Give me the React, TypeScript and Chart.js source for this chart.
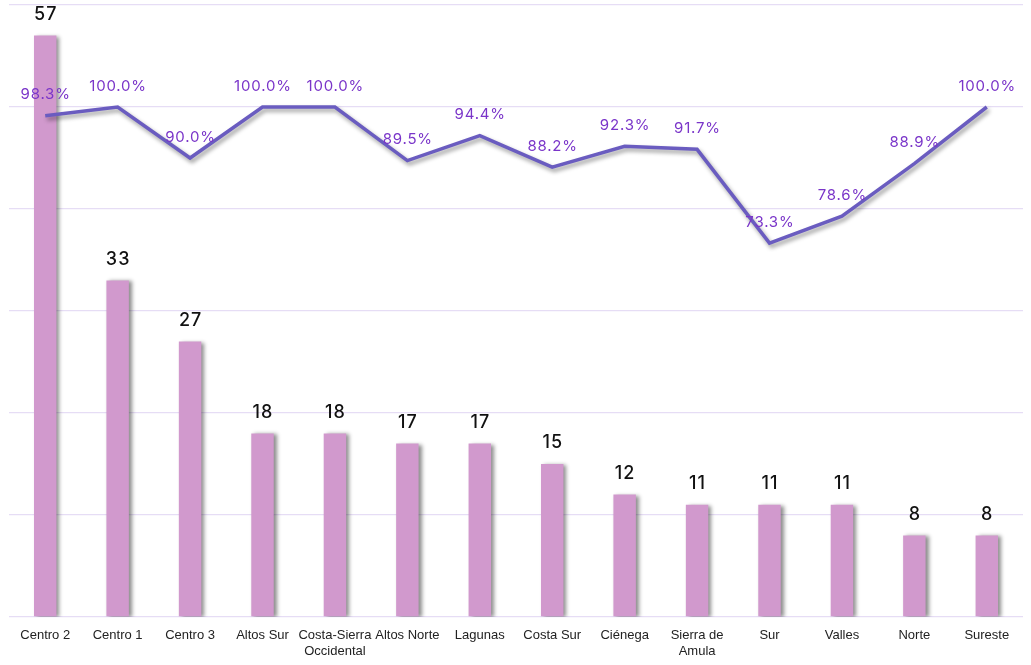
import React, { useEffect, useRef } from "react";
import { Chart, registerables } from "chart.js";

Chart.register(...registerables);

const categories: (string | string[])[] = [
  "Centro 2", "Centro 1", "Centro 3", "Altos Sur", ["Costa-Sierra", "Occidental"],
  "Altos Norte", "Lagunas", "Costa Sur", "Ciénega", ["Sierra de", "Amula"],
  "Sur", "Valles", "Norte", "Sureste",
];
const counts = [57, 33, 27, 18, 18, 17, 17, 15, 12, 11, 11, 11, 8, 8];
const percents = [98.3, 100.0, 90.0, 100.0, 100.0, 89.5, 94.4, 88.2, 92.3, 91.7, 73.3, 78.6, 88.9, 100.0];

const BAR_COLOR = "#D199CD";
const LINE_COLOR = "#6A5CC0";
const PCT_COLOR = "#7A35C9";
const GRID_COLOR = "#E6DDF5";
const LABEL_FONT = "Inter, 'Noto Sans', sans-serif";

const shadowPlugin = {
  id: "shadowPlugin",
  beforeDatasetDraw(chart: any, args: any) {
    const ctx = chart.ctx;
    ctx.save();
    if (args.index === 0) {
      ctx.shadowColor = "rgba(0,0,0,0.45)";
      ctx.shadowBlur = 4;
      ctx.shadowOffsetX = 3;
      ctx.shadowOffsetY = 1;
    } else {
      ctx.shadowColor = "rgba(0,0,0,0.4)";
      ctx.shadowBlur = 4;
      ctx.shadowOffsetX = 2;
      ctx.shadowOffsetY = 3;
    }
  },
  afterDatasetDraw(chart: any) {
    chart.ctx.restore();
  },
};

const labelsPlugin = {
  id: "labelsPlugin",
  afterDatasetsDraw(chart: any) {
    const ctx = chart.ctx;
    ctx.save();
    ctx.textAlign = "center";
    ctx.textBaseline = "middle";
    const barMeta = chart.getDatasetMeta(0);
    ctx.fillStyle = "#111111";
    ctx.font = `500 18px ${LABEL_FONT}`;
    (ctx as any).letterSpacing = "1px";
    barMeta.data.forEach((el: any, i: number) => {
      ctx.fillText(String(counts[i]), el.x + 0.5, el.y - 21);
    });
    const lineMeta = chart.getDatasetMeta(1);
    ctx.fillStyle = PCT_COLOR;
    ctx.font = `400 15px ${LABEL_FONT}`;
    (ctx as any).letterSpacing = "0.8px";
    lineMeta.data.forEach((el: any, i: number) => {
      ctx.fillText(percents[i].toFixed(1) + "%", el.x + 0.4, el.y - 21);
    });
    ctx.restore();
  },
};

export default function App() {
  const ref = useRef<HTMLCanvasElement | null>(null);
  useEffect(() => {
    if (!ref.current) return;
    const chart = new Chart(ref.current, {
      type: "bar",
      data: {
        labels: categories as any,
        datasets: [
          {
            type: "bar",
            data: counts,
            backgroundColor: BAR_COLOR,
            yAxisID: "y",
            barPercentage: 1,
            categoryPercentage: 0.31,
            order: 2,
          } as any,
          {
            type: "line",
            data: percents.map((p) => p / 100),
            borderColor: LINE_COLOR,
            borderWidth: 3.5,
            pointRadius: 0,
            tension: 0,
            yAxisID: "y2",
            order: 1,
          } as any,
        ],
      },
      options: {
        animation: false,
        responsive: false,
        maintainAspectRatio: false,
        layout: { padding: { left: 9, right: 8, top: 5, bottom: 0 } },
        plugins: { legend: { display: false }, tooltip: { enabled: false } },
        scales: {
          x: {
            grid: { display: false, drawTicks: false },
            border: { display: false },
            ticks: {
              color: "#222222",
              font: { family: "'Liberation Sans', Arial, sans-serif", size: 13 },
              padding: 11,
              maxRotation: 0,
              autoSkip: false,
            },
            afterFit(scale: any) {
              scale.height = 48;
            },
          },
          y: {
            min: 0,
            max: 60,
            ticks: { display: false, stepSize: 10 },
            grid: { color: GRID_COLOR, lineWidth: 1.3, drawTicks: false },
            border: { display: false },
          },
          y2: {
            display: false,
            min: 0,
            max: 1.2,
            position: "right",
          },
        },
      } as any,
      plugins: [shadowPlugin, labelsPlugin],
    });
    return () => chart.destroy();
  }, []);
  return (
    <div style={{ position: "fixed", left: 0, top: 0, width: 1031, height: 665, background: "#fff" }}>
      <canvas ref={ref} width={1031} height={665} style={{ width: 1031, height: 665 }} />
    </div>
  );
}
